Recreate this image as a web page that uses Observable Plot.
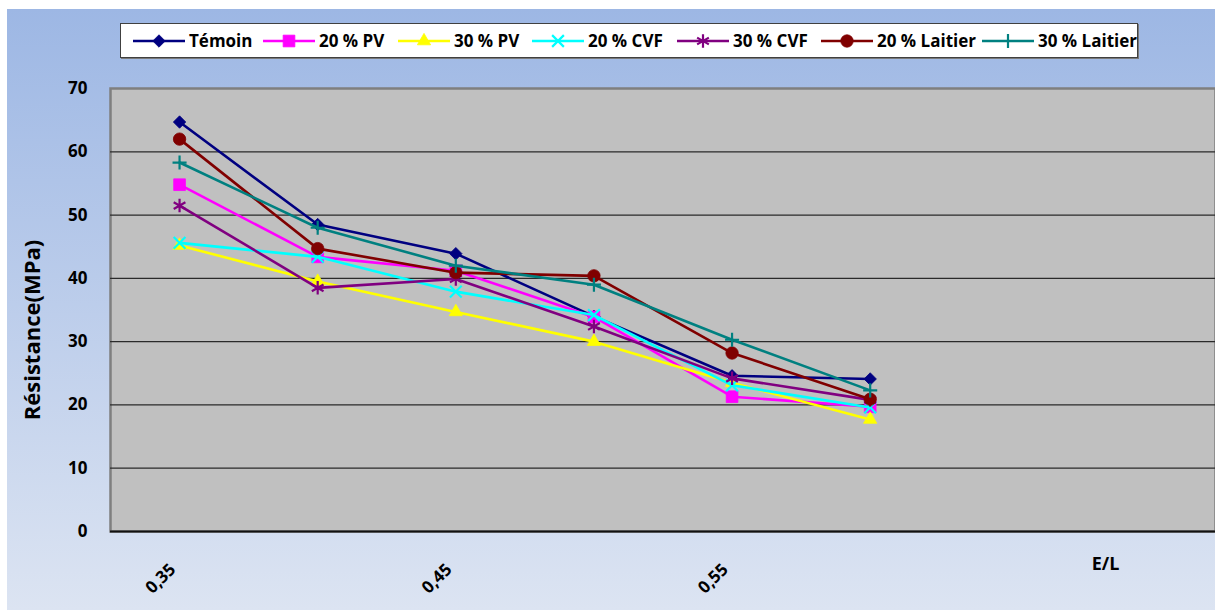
<!DOCTYPE html>
<html><head><meta charset="utf-8">
<script src="https://cdn.jsdelivr.net/npm/d3@7"></script>
<script src="https://cdn.jsdelivr.net/npm/@observablehq/plot@0.6"></script>
<style>
html,body{margin:0;padding:0;background:#fff;width:1215px;height:610px;overflow:hidden;}
#wrap{position:absolute;left:7px;top:9px;width:1208px;height:601px;background:linear-gradient(to bottom,#9db7e4,#dce4f2);font-family:"Open Sans",sans-serif;}
#legend{position:relative;height:51px;}
#lbox{position:absolute;left:113px;top:14px;width:1016px;height:33px;background:#fff;border:1px solid #404040;box-shadow:1px 1px 0 #7a7a7a;}
.item{position:absolute;top:0;height:33px;display:flex;align-items:center;}
.item span{font-weight:700;font-size:17px;color:#000;margin-left:4px;white-space:nowrap;}
svg{display:block;}
</style>
</head><body>
<div id="wrap"><div id="legend"><div id="lbox"></div></div><div id="chart"></div></div>
<script>
// Data
const el = [0.35, 0.40, 0.45, 0.50, 0.55, 0.60];
const temoin = [64.7, 48.5, 43.9, 34.0, 24.6, 24.1];
const pv20   = [54.8, 43.4, 41.2, 33.9, 21.3, 19.7];
const pv30   = [45.2, 39.5, 34.7, 30.0, 23.5, 17.7];
const cvf20  = [45.6, 43.4, 37.9, 34.2, 23.1, 19.6];
const cvf30  = [51.5, 38.5, 39.9, 32.4, 24.2, 20.8];
const lait20 = [62.0, 44.7, 40.9, 40.4, 28.2, 20.9];
const lait30 = [58.3, 48.0, 42.0, 39.0, 30.3, 22.3];
const seriesNames = ["Témoin", "20 % PV", "30 % PV", "20 % CVF", "30 % CVF", "20 % Laitier", "30 % Laitier"];
const seriesValues = [temoin, pv20, pv30, cvf20, cvf30, lait20, lait30];
const seriesColors = ["#000080", "#ff00ff", "#ffff00", "#00ffff", "#800080", "#800000", "#008080"];
const seriesSymbols = ["diamond2", "square", "triangle", "times", "asterisk", "circle", "plus"];
const xTicks = [0.35, 0.45, 0.55];
const yTicks = [0, 10, 20, 30, 40, 50, 60, 70];
const gridY = [10, 20, 30, 40, 50, 60];
const yTitle = "Résistance(MPa)";
const xTitle = "E/L";

const symR = {diamond2: 5.6, square: 6.6, triangle: 4.9, times: 5.4, asterisk: 6.4, circle: 6.2, plus: 4.6};
const strokeSym = new Set(["times", "asterisk", "plus"]);
const d3Sym = {diamond2: d3.symbolDiamond2, square: d3.symbolSquare, triangle: d3.symbolTriangle, times: d3.symbolTimes, asterisk: d3.symbolAsterisk, circle: d3.symbolCircle, plus: d3.symbolPlus};

const rows = seriesNames.flatMap((name, s) => el.map((x, i) => ({series: name, s, x, y: seriesValues[s][i]})));

const marks = [
  Plot.frame({fill: "#c0c0c0", stroke: "#7f7f7f", strokeWidth: 2.5}),
  Plot.ruleY(gridY, {stroke: "#2a2a2a", strokeWidth: 1.3}),
  Plot.ruleY([0], {stroke: "#111", strokeWidth: 2.2}),
  Plot.axisY({ticks: yTicks, tickSize: 0, tickPadding: 23, fontSize: 17, fontWeight: "bold", label: null}),
  Plot.text(xTicks, {x: d => d, frameAnchor: "bottom", text: d => d.toFixed(2).replace(".", ","), rotate: -45, textAnchor: "end", dx: -3, dy: 39, fontSize: 17, fontWeight: "bold"}),
  Plot.text([xTitle], {frameAnchor: "bottom-right", dx: -110, dy: 38, fontSize: 18, fontWeight: "bold", textAnchor: "middle"}),
  Plot.text([yTitle], {frameAnchor: "left", rotate: -90, dx: -78, dy: 20, fontSize: 22, fontWeight: "bold", textAnchor: "middle"})
];
seriesNames.forEach((name, s) => {
  const data = rows.filter(d => d.s === s);
  const sym = seriesSymbols[s];
  const c = seriesColors[s];
  marks.push(Plot.line(data, {x: "x", y: "y", stroke: c, strokeWidth: 2.6}));
  if (strokeSym.has(sym)) {
    marks.push(Plot.dot(data, {x: "x", y: "y", symbol: () => sym, r: symR[sym], fill: "none", stroke: c, strokeWidth: 2.2}));
  } else {
    marks.push(Plot.dot(data, {x: "x", y: "y", symbol: () => sym, r: symR[sym], fill: c, stroke: c, strokeWidth: 0.8}));
  }
});

const chart = Plot.plot({
  width: 1208, height: 550,
  marginLeft: 103, marginRight: 0, marginTop: 28, marginBottom: 79,
  x: {type: "linear", domain: [0.325, 0.725], axis: null},
  y: {domain: [0, 70], axis: null},
  symbol: {type: "identity"},
  style: {background: "transparent", fontFamily: "Open Sans", color: "#000", overflow: "visible"},
  marks
});
document.getElementById("chart").appendChild(chart);

// Legend
const lineStarts = [12, 142, 277, 411, 556, 700, 861];
const lbox = document.getElementById("lbox");
seriesNames.forEach((name, s) => {
  const item = document.createElement("div");
  item.className = "item";
  item.style.left = lineStarts[s] + "px";
  const svg = d3.create("svg").attr("width", 52).attr("height", 20);
  svg.append("line").attr("x1", 0).attr("x2", 52).attr("y1", 10).attr("y2", 10).attr("stroke", seriesColors[s]).attr("stroke-width", 2.6);
  const sym = seriesSymbols[s];
  const r = symR[sym];
  const p = svg.append("path").attr("transform", "translate(26,10)").attr("d", d3.symbol(d3Sym[sym], r * r * Math.PI)());
  if (strokeSym.has(sym)) p.attr("fill", "none").attr("stroke", seriesColors[s]).attr("stroke-width", 2.2);
  else p.attr("fill", seriesColors[s]).attr("stroke", seriesColors[s]).attr("stroke-width", 0.8);
  item.appendChild(svg.node());
  const sp = document.createElement("span");
  sp.textContent = name;
  item.appendChild(sp);
  lbox.appendChild(item);
});
</script>
</body></html>
